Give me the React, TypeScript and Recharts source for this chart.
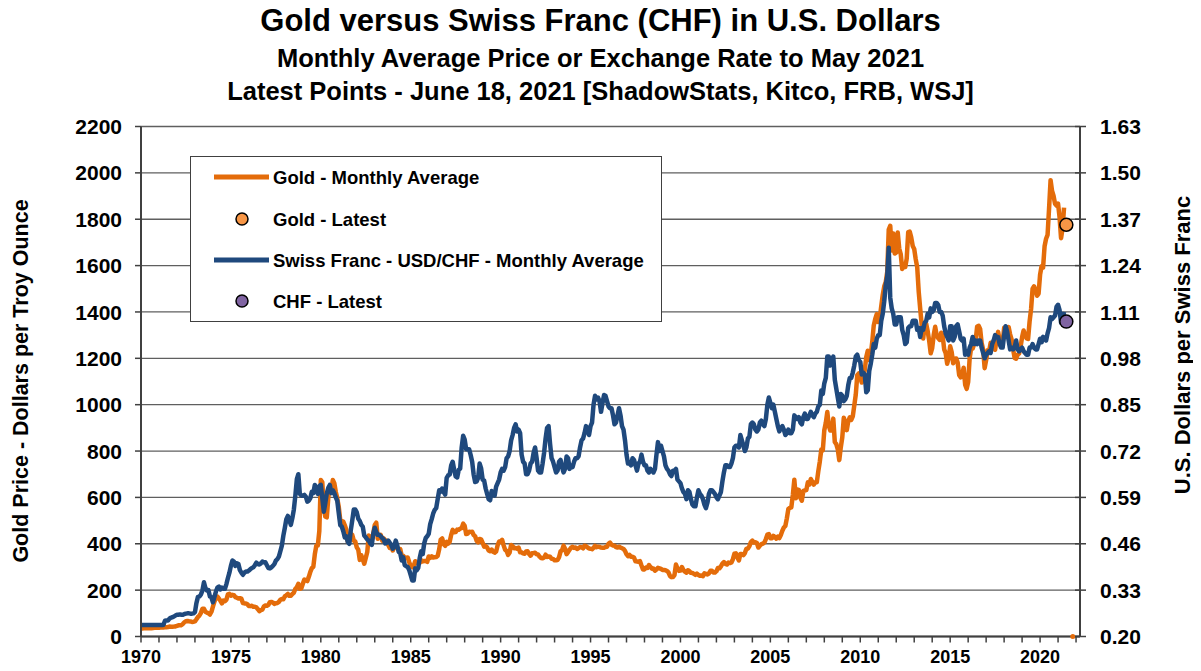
import React from 'react';
import { ComposedChart, Line, XAxis, YAxis, CartesianGrid, Legend } from 'recharts';

// ---------- DATA ----------
const START_YEAR = 1970; // first month: January 1970, one value per month
// Gold, monthly average price, US$ per troy ounce (Jan 1970 - May 2021)
const goldMonthly = [
  34.9, 35.0, 35.1, 35.6, 35.9, 35.4, 35.3, 35.4, 36.2, 37.5, 37.4, 37.4,
  37.9, 38.7, 38.9, 39.0, 40.5, 40.1, 41.0, 42.7, 42.0, 42.5, 42.9, 43.5,
  45.7, 48.3, 48.3, 49.0, 54.6, 62.1, 65.7, 67.0, 65.5, 64.9, 62.9, 63.9,
  65.1, 74.2, 84.4, 90.5, 102.0, 120.1, 120.2, 106.8, 103.0, 100.1, 94.8, 106.7,
  129.2, 150.2, 168.4, 172.2, 163.3, 154.1, 143.0, 154.6, 151.8, 158.8, 181.7, 183.9,
  176.3, 179.6, 178.2, 170.1, 167.3, 164.2, 165.2, 163.1, 144.1, 142.8, 142.8, 139.3,
  131.6, 131.0, 132.6, 128.2, 128.2, 125.6, 117.8, 109.3, 114.0, 116.0, 130.0, 133.9,
  132.3, 136.3, 148.3, 149.2, 146.7, 140.8, 143.4, 144.6, 149.3, 158.8, 162.1, 160.5,
  173.2, 178.2, 183.7, 175.3, 176.2, 183.4, 188.6, 206.1, 212.6, 227.3, 206.0, 207.8,
  227.3, 245.7, 242.1, 239.2, 257.6, 279.1, 294.7, 300.8, 355.1, 392.0, 392.4, 455.1,
  675.3, 665.3, 553.6, 517.4, 513.8, 600.7, 644.3, 626.5, 674.8, 661.2, 623.5, 594.9,
  557.6, 500.0, 498.2, 495.8, 479.7, 460.8, 409.3, 410.0, 443.9, 437.8, 413.4, 410.1,
  384.4, 374.2, 330.5, 350.5, 333.9, 314.0, 339.0, 364.4, 436.0, 422.4, 414.1, 444.5,
  481.3, 491.3, 421.4, 432.7, 438.4, 412.9, 422.8, 416.3, 411.7, 394.4, 381.7, 388.0,
  370.9, 386.1, 394.9, 381.6, 377.5, 377.7, 347.6, 348.0, 341.1, 340.2, 341.2, 320.2,
  303.0, 298.9, 304.0, 324.9, 316.6, 316.8, 317.6, 329.4, 324.0, 325.6, 325.4, 322.0,
  345.4, 339.0, 346.0, 340.5, 342.2, 342.5, 348.4, 376.4, 417.9, 423.3, 398.1, 391.0,
  408.3, 401.0, 408.9, 438.4, 460.1, 449.8, 450.5, 461.1, 460.0, 465.5, 467.4, 486.8,
  477.2, 442.1, 444.0, 452.1, 451.3, 451.6, 437.6, 432.7, 412.5, 406.5, 420.6, 418.9,
  404.0, 387.8, 390.2, 384.2, 371.1, 367.6, 375.0, 365.4, 361.8, 366.9, 393.8, 409.4,
  410.1, 416.7, 393.1, 374.3, 369.0, 352.3, 362.5, 394.7, 389.3, 380.7, 381.4, 378.2,
  383.6, 363.3, 363.5, 358.4, 356.8, 366.7, 367.7, 356.1, 348.7, 358.7, 359.6, 361.7,
  354.5, 353.9, 344.3, 338.6, 337.2, 340.8, 352.8, 342.9, 345.4, 344.4, 335.0, 334.8,
  329.0, 329.3, 330.0, 342.2, 367.2, 371.9, 392.0, 378.7, 355.3, 364.2, 373.8, 383.3,
  386.9, 382.0, 383.9, 377.3, 381.4, 385.6, 385.5, 380.4, 391.6, 389.8, 384.4, 379.3,
  378.6, 376.5, 382.1, 391.0, 385.2, 387.6, 386.2, 383.7, 383.1, 383.0, 386.0, 387.4,
  400.0, 405.0, 396.0, 392.8, 392.0, 385.3, 383.5, 387.5, 383.1, 381.1, 377.9, 369.2,
  355.0, 346.6, 352.1, 344.1, 343.8, 340.8, 324.1, 323.9, 322.8, 324.9, 306.0, 288.7,
  289.1, 297.4, 295.9, 308.3, 299.4, 292.3, 292.9, 284.1, 289.0, 296.0, 294.1, 291.6,
  287.1, 287.3, 285.9, 282.6, 276.4, 261.3, 256.1, 256.7, 264.7, 310.7, 293.2, 283.1,
  284.3, 299.9, 286.4, 279.7, 275.1, 285.7, 281.6, 274.5, 273.7, 270.0, 266.0, 271.5,
  265.5, 261.9, 263.0, 260.5, 272.4, 270.2, 267.5, 272.4, 283.4, 283.1, 276.2, 275.9,
  281.7, 295.5, 294.0, 302.7, 314.5, 321.2, 313.3, 310.3, 319.2, 316.6, 319.2, 333.4,
  356.9, 359.0, 340.6, 328.2, 355.7, 356.4, 351.0, 359.8, 378.9, 378.9, 389.9, 407.6,
  414.0, 405.3, 406.7, 403.3, 383.8, 392.4, 398.1, 400.5, 405.3, 420.5, 439.4, 441.8,
  424.2, 423.4, 434.2, 428.9, 421.9, 430.7, 424.5, 437.9, 456.1, 469.9, 476.7, 509.8,
  549.9, 555.0, 557.1, 610.6, 676.5, 596.2, 633.8, 632.6, 598.2, 585.8, 627.8, 629.8,
  631.2, 664.8, 654.9, 679.4, 666.9, 655.5, 665.3, 665.4, 712.7, 754.6, 806.3, 803.2,
  889.6, 922.3, 968.4, 909.7, 888.7, 889.5, 939.8, 839.0, 829.9, 806.6, 760.9, 816.1,
  858.7, 943.2, 924.3, 890.2, 928.6, 945.7, 934.2, 949.4, 996.6, 1043.2, 1127.0, 1134.7,
  1117.9, 1095.4, 1113.3, 1148.7, 1205.4, 1232.9, 1193.0, 1215.8, 1270.9, 1342.0, 1369.9, 1390.6,
  1356.4, 1372.7, 1424.0, 1473.8, 1510.4, 1528.7, 1572.8, 1755.8, 1771.9, 1665.2, 1738.9, 1652.3,
  1656.1, 1742.6, 1673.8, 1650.1, 1585.5, 1596.7, 1593.9, 1630.3, 1744.5, 1746.6, 1721.6, 1684.8,
  1671.9, 1627.6, 1593.1, 1487.9, 1414.0, 1343.4, 1285.5, 1347.1, 1348.6, 1316.6, 1275.8, 1221.5,
  1244.3, 1299.6, 1336.1, 1299.0, 1287.5, 1279.1, 1310.6, 1295.9, 1238.8, 1222.5, 1176.3, 1202.3,
  1251.8, 1227.1, 1178.6, 1197.9, 1199.0, 1181.5, 1128.3, 1117.9, 1124.8, 1159.3, 1086.4, 1068.3,
  1097.9, 1199.5, 1245.1, 1242.3, 1260.9, 1276.4, 1337.4, 1340.2, 1326.6, 1266.5, 1238.4, 1157.4,
  1192.1, 1234.2, 1231.1, 1266.9, 1246.0, 1260.3, 1236.8, 1283.0, 1314.1, 1279.5, 1281.9, 1264.5,
  1331.3, 1330.7, 1324.7, 1334.8, 1303.5, 1282.0, 1238.4, 1201.7, 1198.4, 1215.4, 1220.7, 1250.4,
  1291.8, 1320.1, 1300.9, 1285.9, 1283.7, 1359.0, 1412.9, 1500.4, 1510.6, 1494.8, 1470.0, 1479.1,
  1560.7, 1597.1, 1591.9, 1683.2, 1715.9, 1732.2, 1846.5, 1968.6, 1921.9, 1900.3, 1866.3, 1858.4,
  1867.2, 1808.2, 1718.2, 1760.0, 1850.3,
];
// Swiss franc, monthly average, US$ per CHF (Jan 1970 - May 2021)
const chfMonthly = [
  0.232, 0.232, 0.232, 0.232, 0.232, 0.232, 0.232, 0.232, 0.232, 0.232, 0.232, 0.232,
  0.232, 0.232, 0.232, 0.233, 0.244, 0.245, 0.245, 0.250, 0.253, 0.254, 0.256, 0.259,
  0.261, 0.261, 0.262, 0.261, 0.261, 0.263, 0.264, 0.265, 0.265, 0.264, 0.264, 0.265,
  0.268, 0.294, 0.311, 0.312, 0.318, 0.329, 0.352, 0.336, 0.329, 0.330, 0.312, 0.310,
  0.296, 0.311, 0.326, 0.337, 0.340, 0.332, 0.337, 0.334, 0.334, 0.347, 0.364, 0.379,
  0.398, 0.413, 0.410, 0.398, 0.405, 0.403, 0.386, 0.379, 0.373, 0.379, 0.382, 0.382,
  0.385, 0.389, 0.392, 0.394, 0.400, 0.407, 0.403, 0.402, 0.405, 0.410, 0.408, 0.408,
  0.400, 0.392, 0.391, 0.394, 0.398, 0.403, 0.413, 0.417, 0.424, 0.439, 0.455, 0.483,
  0.505, 0.529, 0.538, 0.526, 0.513, 0.532, 0.556, 0.595, 0.641, 0.655, 0.600, 0.595,
  0.595, 0.597, 0.592, 0.578, 0.581, 0.588, 0.606, 0.602, 0.625, 0.610, 0.600, 0.622,
  0.625, 0.588, 0.550, 0.575, 0.602, 0.617, 0.625, 0.602, 0.610, 0.602, 0.590, 0.580,
  0.545, 0.512, 0.508, 0.495, 0.478, 0.481, 0.465, 0.460, 0.498, 0.526, 0.556, 0.556,
  0.548, 0.530, 0.524, 0.513, 0.508, 0.483, 0.478, 0.472, 0.469, 0.461, 0.457, 0.488,
  0.505, 0.493, 0.485, 0.485, 0.481, 0.476, 0.472, 0.461, 0.463, 0.469, 0.463, 0.457,
  0.446, 0.452, 0.469, 0.455, 0.437, 0.433, 0.413, 0.422, 0.400, 0.397, 0.395, 0.386,
  0.372, 0.357, 0.357, 0.391, 0.386, 0.392, 0.420, 0.439, 0.431, 0.461, 0.476, 0.481,
  0.488, 0.515, 0.529, 0.545, 0.555, 0.560, 0.585, 0.610, 0.606, 0.615, 0.605, 0.598,
  0.645, 0.652, 0.654, 0.680, 0.690, 0.667, 0.649, 0.646, 0.667, 0.671, 0.730, 0.763,
  0.752, 0.725, 0.725, 0.725, 0.709, 0.690, 0.654, 0.633, 0.635, 0.645, 0.685, 0.671,
  0.640, 0.637, 0.615, 0.600, 0.585, 0.582, 0.608, 0.600, 0.595, 0.620, 0.630, 0.640,
  0.660, 0.670, 0.665, 0.675, 0.700, 0.705, 0.720, 0.750, 0.765, 0.785, 0.795, 0.775,
  0.780, 0.770, 0.710, 0.690, 0.685, 0.655, 0.655, 0.665, 0.685, 0.690, 0.715, 0.730,
  0.700, 0.665, 0.660, 0.660, 0.685, 0.715, 0.755, 0.785, 0.790, 0.740, 0.700, 0.690,
  0.675, 0.660, 0.665, 0.690, 0.695, 0.675, 0.660, 0.670, 0.705, 0.700, 0.670, 0.680,
  0.675, 0.690, 0.700, 0.700, 0.705, 0.730, 0.750, 0.755, 0.770, 0.790, 0.780, 0.765,
  0.790, 0.800, 0.850, 0.875, 0.865, 0.870, 0.860, 0.830, 0.855, 0.877, 0.875, 0.860,
  0.845, 0.840, 0.840, 0.820, 0.795, 0.800, 0.820, 0.840, 0.820, 0.790, 0.780, 0.750,
  0.710, 0.685, 0.685, 0.680, 0.700, 0.695, 0.680, 0.665, 0.685, 0.690, 0.710, 0.690,
  0.680, 0.680, 0.665, 0.660, 0.670, 0.665, 0.660, 0.670, 0.710, 0.745, 0.720, 0.735,
  0.720, 0.705, 0.680, 0.670, 0.665, 0.655, 0.650, 0.665, 0.665, 0.670, 0.640, 0.635,
  0.630, 0.615, 0.605, 0.600, 0.585, 0.610, 0.605, 0.585, 0.570, 0.565, 0.565, 0.590,
  0.610, 0.600, 0.595, 0.585, 0.570, 0.560, 0.575, 0.600, 0.610, 0.610, 0.605, 0.600,
  0.590, 0.585, 0.595, 0.605, 0.635, 0.660, 0.680, 0.680, 0.675, 0.675, 0.685, 0.700,
  0.730, 0.735, 0.735, 0.730, 0.765, 0.750, 0.735, 0.720, 0.730, 0.755, 0.760, 0.795,
  0.800, 0.795, 0.780, 0.775, 0.780, 0.800, 0.805, 0.795, 0.790, 0.810, 0.850, 0.870,
  0.855, 0.840, 0.850, 0.830, 0.810, 0.790, 0.775, 0.785, 0.790, 0.780, 0.765, 0.770,
  0.780, 0.770, 0.770, 0.780, 0.820, 0.815, 0.810, 0.815, 0.800, 0.795, 0.815, 0.825,
  0.810, 0.810, 0.820, 0.830, 0.820, 0.815, 0.825, 0.830, 0.845, 0.850, 0.890, 0.880,
  0.910, 0.925, 0.985, 0.985, 0.960, 0.975, 0.985, 0.920, 0.895, 0.870, 0.845, 0.880,
  0.875, 0.860, 0.865, 0.875, 0.905, 0.925, 0.925, 0.940, 0.960, 0.985, 0.990, 0.975,
  0.970, 0.935, 0.940, 0.935, 0.885, 0.890, 0.945, 0.965, 0.990, 1.020, 1.010, 1.035,
  1.045, 1.045, 1.085, 1.105, 1.140, 1.185, 1.210, 1.290, 1.150, 1.120, 1.105, 1.075,
  1.075, 1.095, 1.095, 1.095, 1.060, 1.045, 1.020, 1.025, 1.065, 1.070, 1.070, 1.085,
  1.085, 1.085, 1.060, 1.065, 1.040, 1.065, 1.060, 1.080, 1.085, 1.105, 1.095, 1.120,
  1.110, 1.115, 1.135, 1.135, 1.130, 1.110, 1.110, 1.100, 1.070, 1.050, 1.040, 1.030,
  1.070, 1.070, 1.030, 1.040, 1.070, 1.075, 1.055, 1.035, 1.030, 1.035, 0.990, 1.000,
  0.990, 1.010, 1.020, 1.040, 1.020, 1.030, 1.020, 1.030, 1.030, 1.010, 0.995, 0.980,
  0.990, 0.995, 1.000, 0.995, 1.020, 1.030, 1.045, 1.040, 1.040, 1.020, 1.010, 1.010,
  1.045, 1.070, 1.055, 1.030, 1.005, 1.010, 1.005, 1.010, 1.030, 1.005, 1.000, 1.005,
  1.010, 1.000, 0.995, 0.990, 0.990, 1.010, 1.010, 1.020, 1.010, 1.005, 1.005, 1.020,
  1.035, 1.025, 1.040, 1.035, 1.030, 1.050, 1.065, 1.095, 1.090, 1.095, 1.100, 1.125,
  1.130, 1.115, 1.080, 1.085, 1.110,
];
// Latest points (June 18, 2021)
const latestDate = 2021.46;
const goldLatest = 1776;
const chfLatest = 1.083;
// small stray gold marker sitting on the axis floor
const strayDate = 2021.82;
const strayValue = 0;

const xTicks = [
  1970, 1971, 1972, 1973, 1974, 1975, 1976, 1977, 1978, 1979,
  1980, 1981, 1982, 1983, 1984, 1985, 1986, 1987, 1988, 1989,
  1990, 1991, 1992, 1993, 1994, 1995, 1996, 1997, 1998, 1999,
  2000, 2001, 2002, 2003, 2004, 2005, 2006, 2007, 2008, 2009,
  2010, 2011, 2012, 2013, 2014, 2015, 2016, 2017, 2018, 2019,
  2020, 2021, 2022,
];
const xLabelYears = [1970, 1975, 1980, 1985, 1990, 1995, 2000, 2005, 2010, 2015, 2020];
const goldTicks = [0, 200, 400, 600, 800, 1000, 1200, 1400, 1600, 1800, 2000, 2200];
const chfTicks = [0.2, 0.33, 0.46, 0.59, 0.72, 0.85, 0.98, 1.11, 1.24, 1.37, 1.5, 1.63];

const legendLabels = [
  'Gold - Monthly Average',
  'Gold - Latest',
  'Swiss Franc - USD/CHF - Monthly Average',
  'CHF - Latest',
];

const titleLines = [
  'Gold versus Swiss Franc (CHF) in U.S. Dollars',
  'Monthly Average Price or Exchange Rate to May 2021',
  'Latest Points - June 18, 2021 [ShadowStats, Kitco, FRB, WSJ]',
];
const leftAxisTitle = 'Gold Price - Dollars per Troy Ounce';
const rightAxisTitle = 'U.S. Dollars per Swiss Franc';

// ---------- STYLE ----------
const FONT = "'Liberation Sans', Arial, Helvetica, sans-serif";
const GOLD = '#E46C0A';
const GOLD_DOT = '#F79646';
const BLUE = '#1F497D';
const PURPLE = '#8064A2';
const AXIS = '#404040';

const data: any[] = goldMonthly.map((g, i) => ({
  x: START_YEAR + i / 12,
  gold: g,
  chf: chfMonthly[i],
}));
data.push({ x: latestDate, goldLatest: goldLatest, chfLatest: chfLatest });
data.push({ x: strayDate, goldStray: strayValue });

const XTick = (props: any) => {
  const { x, y, payload } = props;
  const v = payload.value;
  return (
    <g>
      <line x1={x} x2={x} y1={y} y2={y + 6} stroke={AXIS} strokeWidth={1.5} />
      {xLabelYears.includes(v) && (
        <text x={x} y={y + 26} textAnchor="middle" fontSize={18} fontWeight={700} fontFamily={FONT} fill="#000">
          {v}
        </text>
      )}
    </g>
  );
};

const LeftTick = (props: any) => {
  const { x, y, payload } = props;
  return (
    <g>
      <line x1={x - 6} x2={x} y1={y} y2={y} stroke={AXIS} strokeWidth={1.5} />
      <text x={x - 19} y={y} dy="0.36em" textAnchor="end" fontSize={21} fontWeight={700} fontFamily={FONT} fill="#000">
        {payload.value}
      </text>
    </g>
  );
};

const RightTick = (props: any) => {
  const { x, y, payload } = props;
  return (
    <g>
      <line x1={x - 5} x2={x + 6} y1={y} y2={y} stroke={AXIS} strokeWidth={1.5} />
      <text x={x + 20} y={y} dy="0.36em" textAnchor="start" fontSize={21} fontWeight={700} fontFamily={FONT} fill="#000">
        {Number(payload.value).toFixed(2)}
      </text>
    </g>
  );
};

const LegendBox = () => {
  const rowY = [20, 62, 103, 144];
  const kinds = ['line', 'dot', 'line', 'dot'];
  const colors = [GOLD, GOLD_DOT, BLUE, PURPLE];
  return (
    <div
      style={{
        width: 472,
        height: 166,
        border: `1.5px solid ${AXIS}`,
        background: '#fff',
        boxSizing: 'border-box',
      }}
    >
      <svg width={470} height={163} style={{ display: 'block' }}>
        {legendLabels.map((label, i) => (
          <g key={label}>
            {kinds[i] === 'line' ? (
              <line x1={23} x2={78} y1={rowY[i]} y2={rowY[i]} stroke={colors[i]} strokeWidth={5} />
            ) : (
              <circle cx={51} cy={rowY[i]} r={6} fill={colors[i]} stroke="#000" strokeWidth={1.5} />
            )}
            <text x={82} y={rowY[i]} dy="0.36em" fontSize={18.5} fontWeight={700} fontFamily={FONT} fill="#000">
              {label}
            </text>
          </g>
        ))}
      </svg>
    </div>
  );
};

export default function App() {
  return (
    <div style={{ position: 'relative', width: 1185, height: 663, fontFamily: FONT, background: '#fff' }}>
      <div
        style={{
          position: 'absolute', left: 0, top: -3, width: 1185, textAlign: 'center',
          fontSize: 31, fontWeight: 700, lineHeight: '31px', whiteSpace: 'nowrap', color: '#000',
        }}
      >
        {titleLines[0]}
      </div>
      <div
        style={{
          position: 'absolute', left: 0, top: 37.5, width: 1185, textAlign: 'center',
          fontSize: 25.5, fontWeight: 700, lineHeight: '25.5px', whiteSpace: 'nowrap', color: '#000',
        }}
      >
        {titleLines[1]}
      </div>
      <div
        style={{
          position: 'absolute', left: 0, top: 70.5, width: 1185, textAlign: 'center',
          fontSize: 25.5, fontWeight: 700, lineHeight: '25.5px', whiteSpace: 'nowrap', color: '#000',
        }}
      >
        {titleLines[2]}
      </div>
      <div
        style={{
          position: 'absolute', left: 14, top: 373, transform: 'translate(-50%, -50%) rotate(-90deg)',
          fontSize: 21.5, fontWeight: 700, lineHeight: '21.5px', whiteSpace: 'nowrap', color: '#000',
        }}
      >
        {leftAxisTitle}
      </div>
      <div
        style={{
          position: 'absolute', left: 1175, top: 337, transform: 'translate(-50%, -50%) rotate(-90deg)',
          fontSize: 22, fontWeight: 700, lineHeight: '22px', whiteSpace: 'nowrap', color: '#000',
        }}
      >
        {rightAxisTitle}
      </div>
      <div style={{ position: 'absolute', left: 0, top: 0 }}>
        <ComposedChart width={1185} height={663} data={data} margin={{ top: 118.5, right: 0, bottom: 0, left: 0 }}>
          <CartesianGrid yAxisId="g" vertical={false} stroke="#5f5f5f" strokeWidth={1.3} />
          <XAxis
            dataKey="x"
            type="number"
            domain={[1970, 2022.22]}
            ticks={xTicks}
            interval={0}
            allowDataOverflow
            height={34.5}
            tickLine={false}
            tickSize={0}
            tickMargin={0}
            axisLine={{ stroke: AXIS, strokeWidth: 2 }}
            tick={<XTick />}
          />
          <YAxis
            yAxisId="g"
            orientation="left"
            width={133}
            domain={[0, 2200]}
            ticks={goldTicks}
            interval={0}
            tickLine={false}
            tickSize={0}
            tickMargin={0}
            axisLine={{ stroke: AXIS, strokeWidth: 2 }}
            tick={<LeftTick />}
          />
          <YAxis
            yAxisId="c"
            orientation="right"
            width={113}
            domain={[0.2, 1.63]}
            ticks={chfTicks}
            interval={0}
            tickLine={false}
            tickSize={0}
            tickMargin={0}
            axisLine={{ stroke: AXIS, strokeWidth: 2 }}
            tick={<RightTick />}
          />
          <Legend
            layout="horizontal"
            verticalAlign="middle"
            align="center"
            wrapperStyle={{ left: 181.5, top: 148, width: 472, height: 166 }}
            content={() => <LegendBox />}
          />
          <Line yAxisId="g" dataKey="gold" stroke={GOLD} strokeWidth={4.5} dot={false} activeDot={false} isAnimationActive={false} strokeLinejoin="round" />
          <Line yAxisId="c" dataKey="chf" stroke={BLUE} strokeWidth={4.5} dot={false} activeDot={false} isAnimationActive={false} strokeLinejoin="round" />
          <Line yAxisId="g" dataKey="goldLatest" stroke="none" dot={{ r: 6.5, fill: GOLD_DOT, stroke: '#000', strokeWidth: 1.5 }} activeDot={false} isAnimationActive={false} />
          <Line yAxisId="c" dataKey="chfLatest" stroke="none" dot={{ r: 6.5, fill: PURPLE, stroke: '#000', strokeWidth: 1.5 }} activeDot={false} isAnimationActive={false} />
          <Line yAxisId="g" dataKey="goldStray" stroke="none" dot={{ r: 2.5, fill: GOLD, stroke: 'none' }} activeDot={false} isAnimationActive={false} />
        </ComposedChart>
      </div>
    </div>
  );
}
